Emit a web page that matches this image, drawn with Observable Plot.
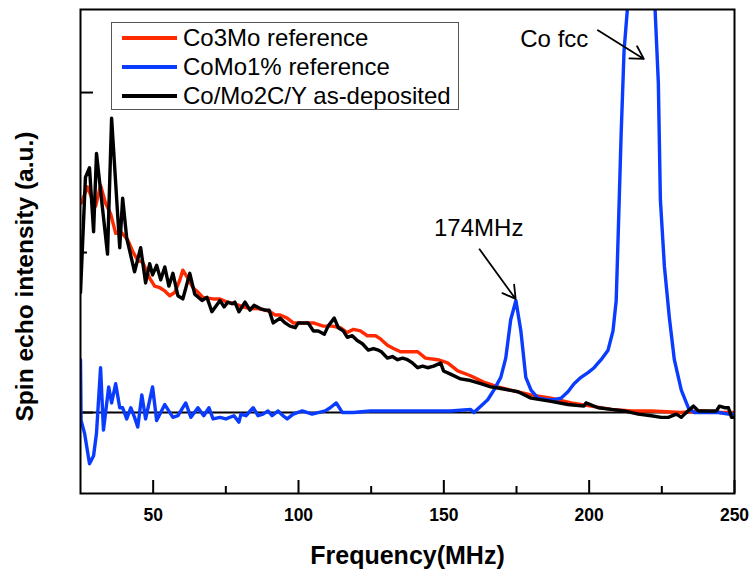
<!DOCTYPE html>
<html>
<head>
<meta charset="utf-8">
<script src="https://cdn.jsdelivr.net/npm/d3@7"></script>
<script src="https://cdn.jsdelivr.net/npm/@observablehq/plot@0.6"></script>
<style>
  body { margin: 0; background: #fff; }
  #wrap { position: relative; width: 750px; height: 570px; font-family: "Liberation Sans", Arial, sans-serif; }
  #legend { position: absolute; left: 111px; top: 22px; width: 348px; height: 88px; border: 1px solid #555; background: #fff; box-sizing: border-box; }
  .item { position: absolute; left: 10px; height: 26px; display: flex; align-items: center; }
  .sw { width: 55px; height: 3.5px; margin-right: 6px; }
  .lab { font-size: 24px; color: #000; white-space: nowrap; line-height: 26px; }
  svg g[aria-label="x-axis tick label"] text { font-weight: bold; }
</style>
</head>
<body>
<div id="wrap"></div>
<script>
// Frequency (MHz), spin echo intensity (a.u.)
const co3mo = [
  [25.3,1.31],[27.4,1.41],[29.1,1.33],[30.2,1.29],[31.9,1.42],[33.6,1.31],[35.4,1.24],[37.1,1.12],
  [38.8,1.13],[41.2,1.08],[42.9,1.01],[44.7,0.95],[46.4,0.94],[48.8,0.84],[50.5,0.79],[52.3,0.78],
  [54.0,0.76],[55.7,0.73],[57.4,0.75],[59.2,0.83],[60.2,0.89],[61.9,0.84],[63.7,0.78],[65.0,0.76],
  [67.1,0.72],[70.6,0.71],[73.0,0.71],[75.4,0.69],[78.1,0.68],[80.9,0.66],[83.3,0.65],[86.1,0.65],
  [88.5,0.64],[90.2,0.63],[91.9,0.61],[93.7,0.61],[96.1,0.59],[98.2,0.56],[100.6,0.56],[105.1,0.56],
  [108.5,0.54],[111.6,0.54],[114.4,0.53],[116.8,0.50],[118.9,0.52],[121.3,0.51],[123.7,0.48],[126.5,0.48],
  [128.2,0.46],[130.6,0.42],[132.7,0.40],[135.1,0.38],[137.8,0.38],[141.0,0.38],[143.7,0.34],[147.9,0.33],
  [151.3,0.31],[154.8,0.26],[159.2,0.23],[163.7,0.19],[168.6,0.16],[173.0,0.14],[180.0,0.11],[186.9,0.09],
  [193.8,0.06],[200.7,0.04],[207.6,0.02],[214.5,0.01],[221.4,0.01],[231.7,0.00],[238.6,0.01],[245.5,0.00],
  [250.0,0.00]
];
const como1 = [
  [25.0,0.33],[25.2,-0.05],[26.4,-0.13],[28.1,-0.32],[29.5,-0.27],[30.5,-0.13],[31.9,0.28],[32.9,-0.11],
  [34.7,0.16],[35.7,0.06],[37.1,0.18],[38.5,0.03],[39.5,0.03],[40.9,-0.04],[42.3,0.03],[43.6,-0.03],
  [44.7,-0.09],[46.1,0.11],[47.4,-0.04],[49.8,0.16],[51.2,-0.05],[54.0,0.05],[56.8,-0.03],[58.5,-0.02],
  [61.2,0.06],[63.0,-0.03],[65.4,0.03],[67.4,-0.02],[69.2,0.03],[70.6,-0.04],[73.0,-0.03],[75.0,-0.04],
  [77.8,-0.02],[79.5,-0.06],[80.2,-0.01],[81.9,-0.02],[84.4,0.03],[86.1,-0.02],[87.8,-0.01],[89.5,0.01],
  [90.9,-0.02],[93.0,0.01],[94.7,-0.02],[96.1,-0.04],[98.2,-0.01],[101.3,0.01],[104.7,-0.01],[109.2,0.01],
  [110.9,0.03],[113.0,0.06],[115.1,0.00],[118.9,0.00],[124.7,0.01],[131.6,0.01],[138.5,0.01],[145.4,0.01],
  [152.3,0.01],[159.2,0.02],[160.3,0.00],[162.7,0.04],[165.1,0.08],[167.2,0.14],[169.6,0.22],[171.3,0.34],
  [173.0,0.58],[174.8,0.70],[176.5,0.51],[178.2,0.22],[180.0,0.14],[182.4,0.09],[185.8,0.08],[187.9,0.08],
  [190.3,0.09],[192.7,0.13],[194.8,0.18],[197.2,0.22],[199.6,0.25],[201.7,0.28],[204.1,0.33],[206.5,0.39],
  [208.2,0.51],[209.3,0.70],[210.0,1.12],[211.0,1.74],[212.0,2.26],[213.1,2.51],[214.2,3.2],[217.8,4.6],
  [221.6,3.2],[222.7,2.51],[223.8,2.06],[224.5,1.33],[225.9,0.91],[227.6,0.59],[229.3,0.33],[231.7,0.14],
  [234.1,0.03],[236.2,0.00],[239.7,0.00],[244.5,0.00],[247.9,-0.01],[250.0,-0.01]
];
const asDeposited = [
  [25.0,0.75],[26.7,1.47],[28.1,1.53],[29.5,1.13],[30.5,1.62],[34.3,0.99],[35.7,1.84],[38.5,1.03],
  [39.5,1.34],[40.9,1.09],[43.6,0.88],[45.7,1.03],[47.4,0.81],[48.8,0.93],[49.8,0.86],[51.2,0.92],
  [52.6,0.83],[54.0,0.91],[55.4,0.79],[56.8,0.87],[58.5,0.73],[60.2,0.71],[62.6,0.87],[64.3,0.74],
  [66.8,0.70],[68.5,0.72],[70.2,0.63],[73.0,0.70],[74.4,0.66],[75.7,0.69],[77.1,0.68],[78.1,0.69],
  [79.5,0.63],[81.6,0.69],[83.3,0.64],[84.7,0.67],[86.8,0.65],[88.5,0.64],[89.9,0.64],[91.3,0.56],
  [93.7,0.59],[95.4,0.56],[97.1,0.54],[98.9,0.53],[99.9,0.56],[102.0,0.56],[103.3,0.56],[105.1,0.51],
  [106.8,0.51],[108.9,0.49],[110.2,0.54],[112.3,0.59],[113.7,0.53],[115.4,0.51],[116.8,0.47],[118.5,0.48],
  [120.2,0.45],[122.0,0.43],[124.0,0.39],[125.8,0.40],[127.5,0.39],[128.5,0.38],[130.6,0.34],[132.3,0.35],
  [134.1,0.33],[135.8,0.34],[137.5,0.33],[139.2,0.31],[141.0,0.28],[142.7,0.29],[144.4,0.28],[146.5,0.29],
  [148.9,0.31],[149.9,0.26],[152.3,0.24],[155.8,0.21],[159.2,0.20],[162.7,0.18],[166.1,0.16],[169.6,0.15],
  [175.5,0.13],[180.0,0.09],[186.9,0.07],[192.7,0.05],[198.2,0.04],[198.9,0.06],[203.1,0.03],[207.6,0.02],
  [212.0,0.01],[216.9,-0.01],[221.4,-0.02],[224.8,-0.03],[227.2,-0.03],[230.0,-0.01],[231.7,-0.03],[232.8,-0.01],
  [235.9,0.04],[237.6,0.01],[241.0,0.01],[243.8,0.01],[244.8,0.04],[246.6,0.03],[247.9,0.03],[249.0,-0.03],
  [250.0,-0.03]
];

const seriesNames = ["Co3Mo reference", "CoMo1% reference", "Co/Mo2C/Y as-deposited"];
const seriesColors = ["#ff2a00", "#0a3cff", "#000000"];
const xMajorTicks = [50, 100, 150, 200, 250];
const xMinorTicks = [75, 125, 175, 225];
const yMajorTicks = [0, 2];
const yMinorTicks = [1];
const xLabel = "Frequency(MHz)";
const yLabel = "Spin echo intensity (a.u.)";
const annotations = [
  {text: "174MHz", x: 162.0, y: 1.15, x1: 162.3, y1: 1.02, x2: 174.7, y2: 0.71},
  {text: "Co fcc", x: 188.0, y: 2.33, x1: 203.0, y1: 2.39, x2: 218.8, y2: 2.21}
];

const font = "'Liberation Sans', Arial, Helvetica, sans-serif";

const chart = Plot.plot({
  width: 750,
  height: 570,
  marginLeft: 80,
  marginRight: 16,
  marginTop: 9,
  marginBottom: 77,
  style: {fontFamily: font, background: "#fff", color: "#000"},
  x: {domain: [25, 250], axis: null},
  y: {domain: [-0.506, 2.519], axis: null},
  marks: [
    Plot.axisX({ticks: xMajorTicks, tickSize: 0, tickPadding: 15, fontSize: 17.5, label: null, tickFormat: d => String(d)}),
    Plot.tickX(xMajorTicks, {x: d => d, insetTop: 471, stroke: "black", strokeWidth: 2}),
    Plot.tickX(xMinorTicks, {x: d => d, insetTop: 477, stroke: "black", strokeWidth: 2}),
    Plot.tickY(yMajorTicks, {y: d => d, insetRight: 641, stroke: "black", strokeWidth: 2}),
    Plot.tickY(yMinorTicks, {y: d => d, insetRight: 647, stroke: "black", strokeWidth: 2}),
    Plot.ruleY([0], {stroke: "black", strokeWidth: 2}),
    Plot.line(co3mo, {x: d => d[0], y: d => d[1], stroke: seriesColors[0], strokeWidth: 3.4, clip: true}),
    Plot.line(como1, {x: d => d[0], y: d => d[1], stroke: seriesColors[1], strokeWidth: 3.4, clip: true}),
    Plot.line(asDeposited, {x: d => d[0], y: d => d[1], stroke: seriesColors[2], strokeWidth: 3.4, clip: true}),
    Plot.arrow(annotations, {x1: "x1", y1: "y1", x2: "x2", y2: "y2", stroke: "black", strokeWidth: 1.8, headLength: 12}),
    Plot.text(annotations, {x: "x", y: "y", text: "text", fontSize: 24, fill: "black"}),
    Plot.frame({stroke: "black", strokeWidth: 2}),
    Plot.text([xLabel], {frameAnchor: "bottom", dy: 70, text: d => d, fontSize: 25, fontWeight: "bold", fill: "black"}),
    Plot.text([yLabel], {frameAnchor: "left", dx: -55, dy: 25, rotate: -90, textAnchor: "middle", text: d => d, fontSize: 24.5, fontWeight: "bold", fill: "black"})
  ]
});

const wrap = document.getElementById("wrap");
wrap.appendChild(chart);

const legend = document.createElement("div");
legend.id = "legend";
seriesNames.forEach((name, i) => {
  const item = document.createElement("div");
  item.className = "item";
  item.style.top = (2 + i * 29) + "px";
  const sw = document.createElement("div");
  sw.className = "sw";
  sw.style.background = seriesColors[i];
  const lab = document.createElement("span");
  lab.className = "lab";
  lab.textContent = name;
  item.appendChild(sw);
  item.appendChild(lab);
  legend.appendChild(item);
});
wrap.appendChild(legend);
</script>
</body>
</html>
